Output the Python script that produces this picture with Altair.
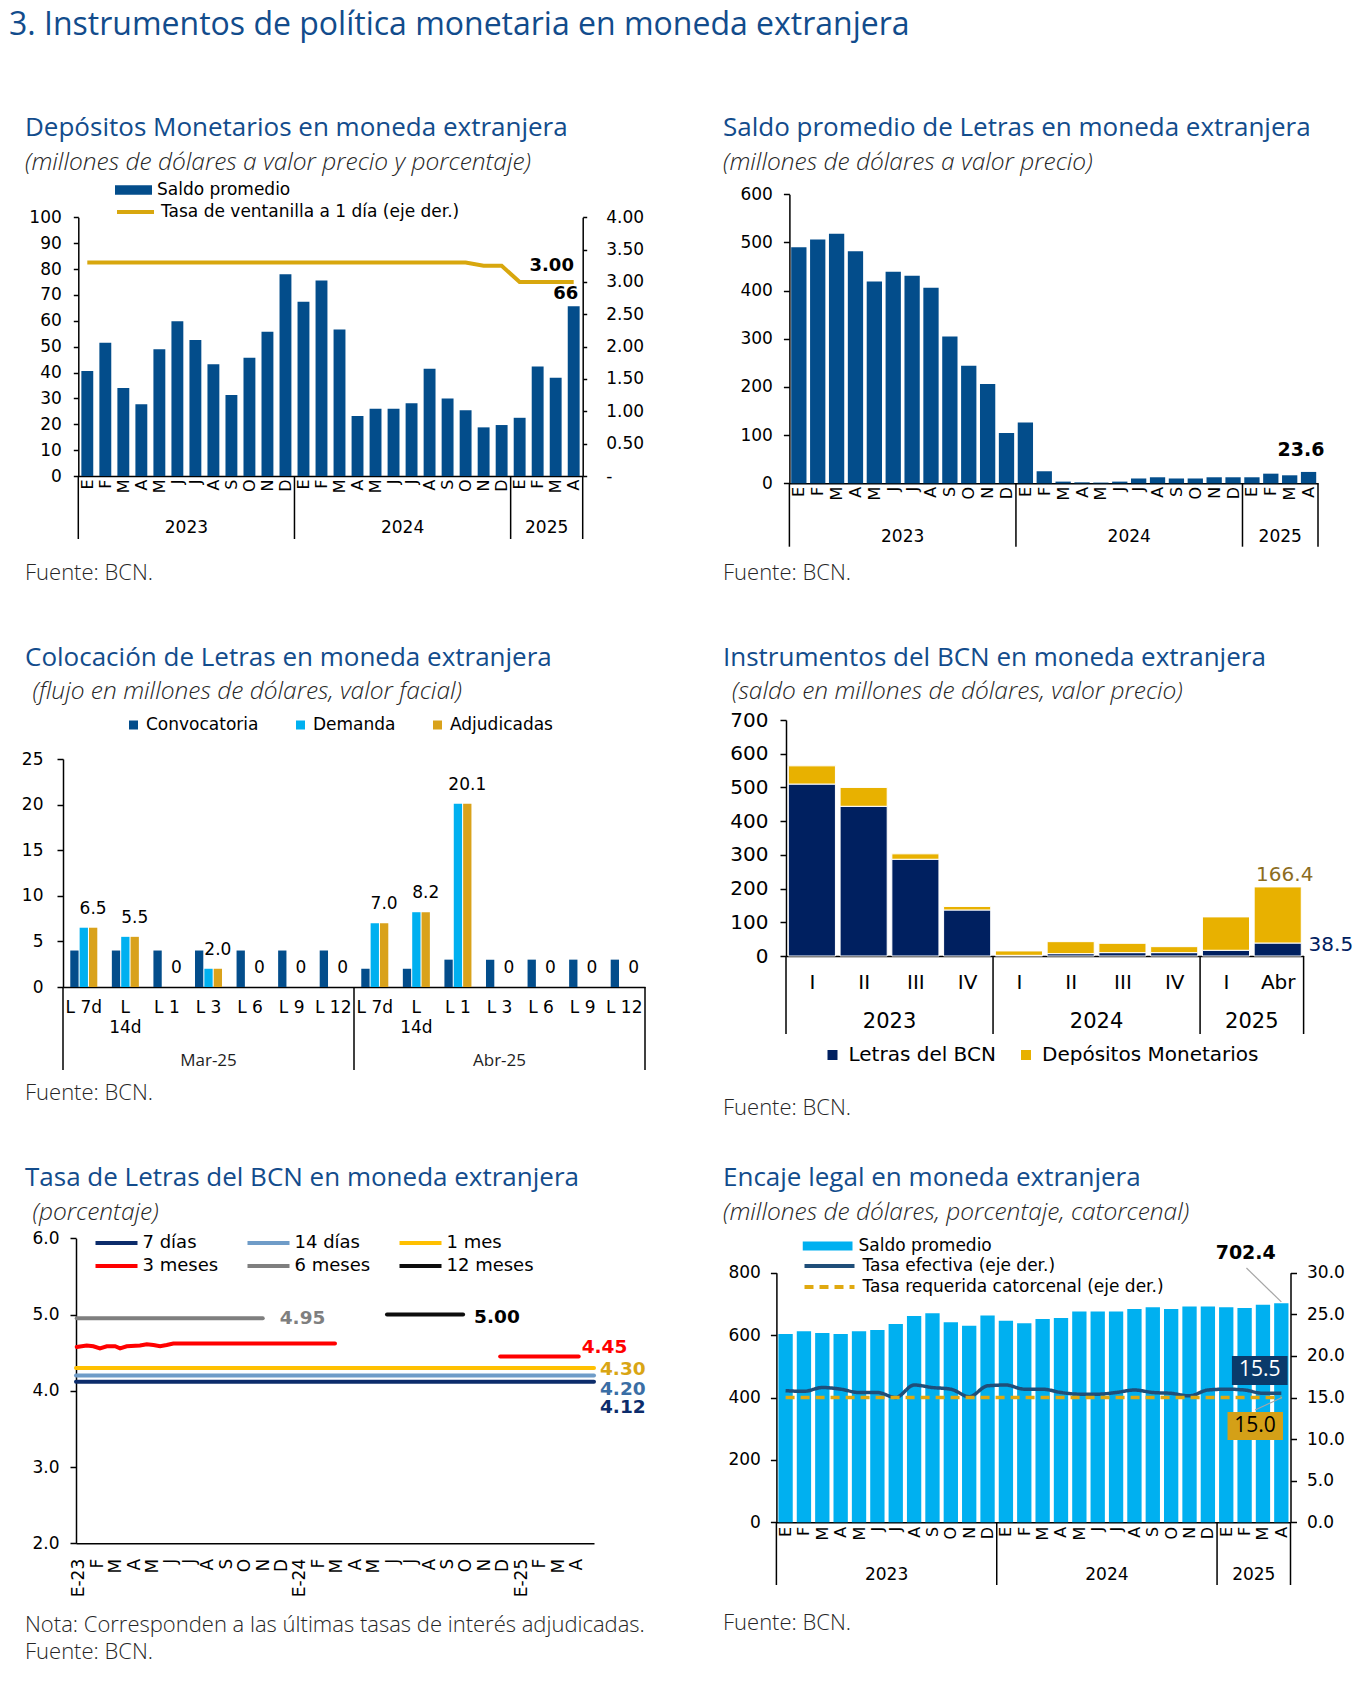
import json
import altair as alt
import pandas as pd

# ------------------------------------------------------------------ data
MESES = ["E", "F", "M", "A", "M", "J", "J", "A", "S", "O", "N", "D"]
ANIOS = ["2023", "2024", "2025"]
MESES_POR_ANIO = [12, 12, 4]

# 1) Depósitos Monetarios en moneda extranjera
dm_saldo = [40.6, 51.5, 34.0, 27.7, 49.0, 59.8, 52.6, 43.2, 31.3, 45.7, 55.8, 78.0,
            67.4, 75.6, 56.6, 23.2, 26.0, 26.0, 28.1, 41.5, 30.0, 25.4, 18.8, 19.7,
            22.5, 42.3, 38.0, 65.6]
dm_tasa = [3.30, 3.30, 3.30, 3.30, 3.30, 3.30, 3.30, 3.30, 3.30, 3.30, 3.30, 3.30,
           3.30, 3.30, 3.30, 3.30, 3.30, 3.30, 3.30, 3.30, 3.30, 3.30, 3.25, 3.25,
           3.00, 3.00, 3.00, 3.00]

# 2) Saldo promedio de Letras en moneda extranjera
le_saldo = [490, 506, 518, 482, 419, 439, 431, 406, 305, 244, 206, 104.5,
            126, 25, 3.5, 2, 1.5, 3.5, 10, 12.5, 10, 10, 12.5, 12.5,
            12.5, 20, 16.6, 23.6]

# 3) Colocación de Letras en moneda extranjera
co_meses = ["Mar-25", "Abr-25"]
co_letras = ["L 7d", "L\n14d", "L 1", "L 3", "L 6", "L 9", "L 12"]
co_series = ["Convocatoria", "Demanda", "Adjudicadas"]
co_conv = [4, 4, 4, 4, 4, 4, 4, 2, 2, 3, 3, 3, 3, 3]
co_dem = [6.5, 5.5, 0, 2.0, 0, 0, 0, 7.0, 8.2, 20.1, 0, 0, 0, 0]
co_adj = [6.5, 5.5, 0, 2.0, 0, 0, 0, 7.0, 8.2, 20.1, 0, 0, 0, 0]

# 4) Instrumentos del BCN en moneda extranjera
in_periodos = ["I", "II", "III", "IV", "I", "II", "III", "IV", "I", "Abr"]
in_por_anio = [4, 4, 2]
in_series = ["Letras del BCN", "Depósitos Monetarios"]
in_letras = [510, 444, 287, 136.5, 2, 7, 10, 10, 17, 38.5]
in_dep = [54, 56, 16, 10.5, 13, 35.5, 27.6, 17.7, 99, 166.4]

# 5) Tasa de Letras del BCN en moneda extranjera
ta_etiquetas = ["E-23", "F", "M", "A", "M", "J", "J", "A", "S", "O", "N", "D",
                "E-24", "F", "M", "A", "M", "J", "J", "A", "S", "O", "N", "D",
                "E-25", "F", "M", "A"]
ta_series = ["7 días", "14 días", "1 mes", "3 meses", "6 meses", "12 meses"]
ta_7d_x = [-0.15, 27.95]
ta_7d_y = [4.12, 4.12]
ta_14d_x = [-0.15, 27.95]
ta_14d_y = [4.20, 4.20]
ta_1m_x = [-0.15, 27.95]
ta_1m_y = [4.30, 4.30]
ta_3m_a_x = [-0.11, 0.43, 0.79, 1.15, 1.52, 1.97, 2.24, 2.60, 3.32, 3.69, 4.05, 4.41, 4.77, 5.13, 13.9]
ta_3m_a_y = [4.575, 4.593, 4.584, 4.557, 4.584, 4.584, 4.557, 4.584, 4.593, 4.610, 4.600, 4.584, 4.600, 4.619, 4.619]
ta_3m_b_x = [22.86, 27.12]
ta_3m_b_y = [4.45, 4.45]
ta_6m_x = [-0.11, 9.98]
ta_6m_y = [4.95, 4.95]
ta_12m_x = [16.72, 20.85]
ta_12m_y = [5.00, 5.00]

# 6) Encaje legal en moneda extranjera
en_saldo = [603.5, 612, 607, 603.5, 612, 616, 635.5, 661, 670, 641, 630, 663,
            646, 638, 651.5, 655, 676, 676, 676, 683.5, 689, 683.5, 692, 692,
            689, 687, 697.5, 702.4]
en_efectiva = [15.82, 15.74, 16.2, 16.0, 15.6, 15.6, 15.0, 16.5, 16.2, 16.0, 15.1, 16.4,
               16.5, 16.0, 16.0, 15.6, 15.4, 15.4, 15.6, 15.9, 15.6, 15.5, 15.2, 15.9,
               16.0, 15.9, 15.5, 15.5]
en_requerida = [15.0, 15.0, 15.0, 15.0, 15.0, 15.0, 15.0, 15.0, 15.0, 15.0, 15.0, 15.0,
                15.0, 15.0, 15.0, 15.0, 15.0, 15.0, 15.0, 15.0, 15.0, 15.0, 15.0, 15.0,
                15.0, 15.0, 15.0, 15.0]

# ------------------------------------------------------------------ style
HEAD = "Open Sans"
DJ = "DejaVu Sans"
C_TITLE = "#124C8C"
C_TXT = "#1E1E1E"
C_DM = "#034D8B"
C_GOLD = "#D8A70E"
C_NAVY = "#002060"
C_CYAN = "#00B0F0"
C_ADJ = "#D9A21B"
C_DEPQ = "#E8B100"
MES_EXPR = json.dumps(MESES) + "[floor(datum.value) % 12]"
T_SIZE = 26
S_SIZE = 24.5
F_SIZE = 22


def rect_sym(h):
    return "M-1,-{h}L1,-{h}L1,{h}L-1,{h}Z".format(h=h)


def sc(domain, rng):
    return alt.Scale(domain=domain, range=rng, nice=False, zero=False)


def tx(s, x, y, size, font=HEAD, color=C_TXT, weight="normal", style="normal",
       align="left", baseline="middle"):
    return alt.Chart(pd.DataFrame({"t": [s]})).mark_text(
        align=align, baseline=baseline, font=font, fontSize=size, color=color,
        fontWeight=weight, fontStyle=style,
    ).encode(text="t:N", x=alt.value(x), y=alt.value(y))


def title_(s, x, y):
    return tx(s, x, y, T_SIZE, color=C_TITLE)


def sub_(s, x, y):
    return tx(s, x, y, S_SIZE, style="italic", weight=300, color="#262626")


def note_(s, x, y):
    return tx(s, x, y, F_SIZE, weight=300, color="#262626")


def bottom_axis(offset, values=None, expr=None, angle=None, pad=3, size=17, labels=True):
    kw = dict(title=None, grid=False, ticks=False, offset=offset, domainColor="black",
              domainWidth=1.5, labelFont=DJ, labelFontSize=size, labelColor="black",
              labelPadding=pad, labelOverlap=False, labelFlush=False)
    if values is not None:
        kw["values"] = values
    if expr is not None:
        kw["labelExpr"] = expr
    if angle is not None:
        kw["labelAngle"] = angle
    if not labels:
        kw["labels"] = False
    return alt.Axis(**kw)


def side_axis(orient, offset, values, pad, size=17, fmt=None, expr=None, tick=6):
    kw = dict(orient=orient, title=None, grid=False, offset=offset, values=values,
              tickSize=tick, tickColor="black", tickWidth=1.5, domainColor="black",
              domainWidth=1.5, labelFont=DJ, labelFontSize=size, labelColor="black",
              labelPadding=pad, labelOverlap=False, labelFlush=False)
    if fmt is not None:
        kw["format"] = fmt
    if expr is not None:
        kw["labelExpr"] = expr
    return alt.Axis(**kw)


def lg(x, y, size=17, **kw):
    base = dict(orient="none", legendX=x, legendY=y, title=None, labelFont=DJ,
                labelFontSize=size, labelColor="black", padding=0, labelLimit=0)
    base.update(kw)
    return alt.Legend(**base)


def year_layers(xs, y_lab, B, y_sep, size=17, groups=MESES_POR_ANIO, labels=ANIOS,
                font=DJ, color="black"):
    starts = [sum(groups[:k]) for k in range(len(groups))]
    centers = [s + g / 2 for s, g in zip(starts, groups)]
    seps = starts + [sum(groups)]
    ylab = alt.Chart(pd.DataFrame({"x": centers, "t": labels})).mark_text(
        font=font, fontSize=size, color=color, baseline="middle"
    ).encode(x=alt.X("x:Q", scale=xs, axis=None), y=alt.value(y_lab), text="t:N")
    sep = alt.Chart(pd.DataFrame({"x": seps})).mark_rule(color="black", strokeWidth=1.5).encode(
        x=alt.X("x:Q", scale=xs, axis=None), y=alt.value(B), y2=alt.value(y_sep))
    return [ylab, sep]


# ------------------------------------------------------------------ panel 1
def panel1():
    W, H = 677, 612
    L, R, T, B = 70.3, 574.7, 209.3, 468.0
    n = len(dm_saldo)
    df = pd.DataFrame({"i": list(range(n)), "v": dm_saldo, "tasa": dm_tasa})
    df["x0"] = df["i"] + 0.17
    df["x1"] = df["i"] + 0.83
    df["xc"] = df["i"] + 0.5
    df["s1"] = "Saldo promedio"
    df["s2"] = "Tasa de ventanilla a 1 día (eje der.)"
    xs = sc([0, n], [L, R])
    yl = sc([0, 100], [B, T])
    yr = sc([0, 4], [B, T])
    bars = alt.Chart(df).mark_bar().encode(
        x=alt.X("x0:Q", scale=xs, axis=bottom_axis(B - H, [i + 0.5 for i in range(n)], MES_EXPR, 270, 3, 16)),
        x2="x1",
        y=alt.Y("v:Q", scale=yl, axis=side_axis("left", -L, list(range(0, 101, 10)), 12, tick=5)),
        y2=alt.datum(0),
        fill=alt.Fill("s1:N", scale=alt.Scale(domain=["Saldo promedio"], range=[C_DM]),
                      legend=lg(107, 172, symbolType=rect_sym(0.26), symbolSize=37 ** 2,
                                symbolStrokeWidth=0, clipHeight=20, labelOffset=5)),
    )
    line = alt.Chart(df).mark_line(strokeWidth=4).encode(
        x=alt.X("xc:Q", scale=xs, axis=None),
        y=alt.Y("tasa:Q", scale=yr, axis=side_axis(
            "right", R - W, [0, 0.5, 1.0, 1.5, 2.0, 2.5, 3.0, 3.5, 4.0], 19, tick=4,
            expr="datum.value == 0 ? '-' : format(datum.value, '.2f')")),
        stroke=alt.Stroke("s2:N", scale=alt.Scale(domain=["Tasa de ventanilla a 1 día (eje der.)"], range=[C_GOLD]),
                          legend=lg(107, 194, symbolType="stroke", symbolSize=37 ** 2,
                                    symbolStrokeWidth=4, clipHeight=20, labelOffset=5)),
    )
    last = df.tail(1)
    t66 = alt.Chart(last).mark_text(font=DJ, fontSize=18, fontWeight="bold", dx=-8, dy=-12,
                                    baseline="middle").encode(
        x=alt.X("xc:Q", scale=xs, axis=None), y=alt.Y("v:Q", scale=yl, axis=None),
        text=alt.Text("v:Q", format=".0f"))
    t300 = alt.Chart(last).mark_text(font=DJ, fontSize=18, fontWeight="bold", dx=-22, dy=-16,
                                     baseline="middle").encode(
        x=alt.X("xc:Q", scale=xs, axis=None), y=alt.Y("tasa:Q", scale=yr, axis=None),
        text=alt.Text("tasa:Q", format=".2f"))
    layers = [bars, line, t66, t300] + year_layers(xs, 520, B, 531) + [
        tx("3.  Instrumentos de política monetaria en moneda extranjera", 1, 17, 32, color=C_TITLE),
        title_("Depósitos Monetarios en moneda extranjera", 17, 120),
        sub_("(millones de dólares a valor precio y porcentaje)", 17, 155),
        note_("Fuente: BCN.", 17, 565),
    ]
    return alt.layer(*layers).resolve_scale(x="independent", y="independent").properties(width=W, height=H)


# ------------------------------------------------------------------ panel 2
def panel2():
    W, H = 677, 612
    L, R, T, B = 104.4, 633.0, 186.3, 475.3
    n = len(le_saldo)
    df = pd.DataFrame({"i": list(range(n)), "v": le_saldo})
    df["x0"] = df["i"] + 0.095
    df["x1"] = df["i"] + 0.905
    df["xc"] = df["i"] + 0.5
    xs = sc([0, n], [L, R])
    ys = sc([0, 600], [B, T])
    bars = alt.Chart(df).mark_bar(color=C_DM).encode(
        x=alt.X("x0:Q", scale=xs, axis=bottom_axis(B - H, [i + 0.5 for i in range(n)], MES_EXPR, 270, 3, 16)),
        x2="x1",
        y=alt.Y("v:Q", scale=ys, axis=side_axis("left", -L, list(range(0, 601, 100)), 11)),
        y2=alt.datum(0),
    )
    tlast = alt.Chart(df.tail(1)).mark_text(font=DJ, fontSize=19, fontWeight="bold", dx=-7.6, dy=-22,
                                            baseline="middle").encode(
        x=alt.X("xc:Q", scale=xs, axis=None), y=alt.Y("v:Q", scale=ys, axis=None),
        text=alt.Text("v:Q", format=".1f"))
    layers = [bars, tlast] + year_layers(xs, 528.7, B, 538.7) + [
        title_("Saldo promedio de Letras en moneda extranjera", 38, 120),
        sub_("(millones de dólares a valor precio)", 38, 155),
        note_("Fuente: BCN.", 38, 565),
    ]
    return alt.layer(*layers).resolve_scale(x="independent", y="independent").properties(width=W, height=H)


# ------------------------------------------------------------------ panel 3
def panel3():
    W, H = 677, 530
    L, R, T, B = 55.0, 637.0, 139.0, 367.0
    ng = len(co_conv)
    offs = {"Convocatoria": -0.225, "Demanda": 0.0, "Adjudicadas": 0.225}
    rows = []
    for g in range(ng):
        for s, vals in zip(co_series, [co_conv, co_dem, co_adj]):
            c = g + 0.5 + offs[s]
            rows.append({"g": g, "serie": s, "v": vals[g], "x0": c - 0.1, "x1": c + 0.1, "xc": c})
    df = pd.DataFrame(rows)
    xs = sc([0, ng], [L, R])
    ys = sc([0, 25], [B, T])
    bars = alt.Chart(df).mark_bar().encode(
        x=alt.X("x0:Q", scale=xs, axis=bottom_axis(B - H, labels=False)),
        x2="x1",
        y=alt.Y("v:Q", scale=ys, axis=side_axis("left", -L, [0, 5, 10, 15, 20, 25], 14)),
        y2=alt.datum(0),
        fill=alt.Fill("serie:N", scale=alt.Scale(domain=co_series, range=[C_DM, C_CYAN, C_ADJ]),
                      legend=lg(117, 96, symbolType="square", symbolSize=81, symbolStrokeWidth=0,
                                clipHeight=18, columns=3, direction="horizontal",
                                columnPadding=33, labelOffset=4)),
    )
    dadj = df[df["serie"] == "Adjudicadas"].copy()
    dadj["lab"] = [("0" if v == 0 else "{:.1f}".format(v)) for v in dadj["v"]]
    vlab = alt.Chart(dadj).mark_text(font=DJ, fontSize=17, color="black", dy=-19, baseline="middle").encode(
        x=alt.X("xc:Q", scale=xs, axis=None), y=alt.Y("v:Q", scale=ys, axis=None), text="lab:N")
    dcat = pd.DataFrame({"x": [g + 0.5 for g in range(ng)], "t": co_letras * len(co_meses)})
    cats = alt.Chart(dcat).mark_text(font=DJ, fontSize=17, color="black", baseline="top",
                                     lineBreak="\n", lineHeight=20).encode(
        x=alt.X("x:Q", scale=xs, axis=None), y=alt.value(380), text="t:N")
    layers = [bars, vlab, cats] + year_layers(xs, 441, B, 450, size=17,
                                              groups=[len(co_letras)] * len(co_meses), labels=co_meses,
                                              font=HEAD, color=C_TXT)
    layers += [
        title_("Colocación de Letras en moneda extranjera", 17, 38),
        sub_("(flujo en millones de dólares, valor facial)", 24.6, 72),
        note_("Fuente: BCN.", 17, 473),
    ]
    return alt.layer(*layers).resolve_scale(x="independent", y="independent").properties(width=W, height=H)


# ------------------------------------------------------------------ panel 4
def panel4():
    W, H = 677, 530
    L, R, T, B = 101.0, 618.6, 100.0, 336.0
    n = len(in_letras)
    rows = []
    for i in range(n):
        rows.append({"i": i, "serie": in_series[0], "y0": 0, "y1": in_letras[i]})
        rows.append({"i": i, "serie": in_series[1], "y0": in_letras[i], "y1": in_letras[i] + in_dep[i]})
    df = pd.DataFrame(rows)
    df["x0"] = df["i"] + 0.045
    df["x1"] = df["i"] + 0.955
    xs = sc([0, n], [L, R])
    ys = sc([0, 700], [B, T])
    bars = alt.Chart(df).mark_bar(stroke="white", strokeWidth=1).encode(
        x=alt.X("x0:Q", scale=xs, axis=bottom_axis(B - H, [i + 0.5 for i in range(n)],
                                                   json.dumps(in_periodos) + "[floor(datum.value)]",
                                                   None, 16, 20)),
        x2="x1",
        y=alt.Y("y0:Q", scale=ys, axis=side_axis("left", -L, list(range(0, 701, 100)), 12, size=20)),
        y2="y1",
        fill=alt.Fill("serie:N", scale=alt.Scale(domain=in_series, range=[C_NAVY, C_DEPQ]),
                      legend=lg(137.5, 424, size=20, symbolType="square", symbolSize=100, symbolStrokeWidth=0,
                                clipHeight=22, columns=2, direction="horizontal",
                                columnPadding=19.5, labelOffset=6)),
    )
    dl = pd.DataFrame({"xc": [n - 0.5], "xe": [n], "tot": [in_letras[-1] + in_dep[-1]],
                       "dep": [in_dep[-1]], "let": [in_letras[-1]]})
    tdep = alt.Chart(dl).mark_text(font=DJ, fontSize=20, color="#8C6D1F", dx=7, dy=-12, baseline="middle").encode(
        x=alt.X("xc:Q", scale=xs, axis=None), y=alt.Y("tot:Q", scale=ys, axis=None),
        text=alt.Text("dep:Q", format=".1f"))
    tlet = alt.Chart(dl).mark_text(font=DJ, fontSize=20, color=C_NAVY, dx=5, dy=2, align="left",
                                   baseline="middle").encode(
        x=alt.X("xe:Q", scale=xs, axis=None), y=alt.Y("let:Q", scale=ys, axis=None),
        text=alt.Text("let:Q", format=".1f"))
    layers = [bars, tdep, tlet] + year_layers(xs, 402, B, 414, size=21, groups=in_por_anio) + [
        title_("Instrumentos del BCN en moneda extranjera", 38, 38),
        sub_("(saldo en millones de dólares, valor precio)", 47, 72),
        note_("Fuente: BCN.", 38, 488),
    ]
    return alt.layer(*layers).resolve_scale(x="independent", y="independent").properties(width=W, height=H)


# ------------------------------------------------------------------ panel 5
def panel5():
    W, H = 677, 524
    L, R, T, B = 68.0, 586.0, 88.3, 393.3
    colors = ["#0C2C6B", "#6F9CC8", "#FFC000", "#FF0000", "#7F7F7F", "#0D0D0D"]
    segs = [("7 días", "a", ta_7d_x, ta_7d_y), ("14 días", "a", ta_14d_x, ta_14d_y),
            ("1 mes", "a", ta_1m_x, ta_1m_y), ("3 meses", "a", ta_3m_a_x, ta_3m_a_y),
            ("3 meses", "b", ta_3m_b_x, ta_3m_b_y), ("6 meses", "a", ta_6m_x, ta_6m_y),
            ("12 meses", "a", ta_12m_x, ta_12m_y)]
    rows = []
    for s, sg, xv, yv in segs:
        for a, b in zip(xv, yv):
            rows.append({"serie": s, "seg": s + sg, "x": a, "y": b})
    df = pd.DataFrame(rows)
    xs = sc([-0.15, 27.95], [L, R])
    ys = sc([2, 6], [B, T])
    lines = alt.Chart(df).mark_line(strokeWidth=4, strokeCap="round").encode(
        x=alt.X("x:Q", scale=xs, axis=bottom_axis(B - H, list(range(28)),
                                                  json.dumps(ta_etiquetas) + "[round(datum.value)]",
                                                  270, 15, 17)),
        y=alt.Y("y:Q", scale=ys, axis=side_axis("left", -L, [2, 3, 4, 5, 6], 11, fmt=".1f")),
        stroke=alt.Stroke("serie:N", scale=alt.Scale(domain=ta_series, range=colors),
                          legend=lg(85.5, 82.5, size=18, symbolType="stroke", symbolSize=42 ** 2,
                                    symbolStrokeWidth=4, clipHeight=21, columns=3,
                                    direction="horizontal", columnPadding=27, labelOffset=3)),
        detail="seg:N",
    )
    lab = pd.DataFrame({
        "x": [ta_3m_b_x[-1], ta_1m_x[-1], ta_14d_x[-1], ta_7d_x[-1], ta_6m_x[-1], ta_12m_x[-1]],
        "y": [ta_3m_b_y[-1], ta_1m_y[-1], ta_14d_y[-1], ta_7d_y[-1], ta_6m_y[-1], ta_12m_y[-1]],
        "dx": [3, 6, 6, 6, 17, 11],
        "dy": [-9, 1.5, 13.5, 25.5, 0, 2],
        "c": ["#FF0000", "#D9A514", "#3A6EA5", "#0C2C6B", "#7F7F7F", "#000000"],
    })
    lab["t"] = ["{:.2f}".format(v) for v in lab["y"]]
    tl = []
    for _, r in lab.iterrows():
        tl.append(alt.Chart(pd.DataFrame([r])).mark_text(
            font=DJ, fontSize=18.5, fontWeight="bold", color=r["c"], align="left", baseline="middle",
            dx=float(r["dx"]), dy=float(r["dy"])).encode(
            x=alt.X("x:Q", scale=xs, axis=None), y=alt.Y("y:Q", scale=ys, axis=None), text="t:N"))
    layers = [lines] + tl + [
        title_("Tasa de Letras del BCN en moneda extranjera", 17, 28),
        sub_("(porcentaje)", 24.6, 63),
        note_("Nota: Corresponden a las últimas tasas de interés adjudicadas.", 17, 475),
        note_("Fuente: BCN.", 17, 502),
    ]
    return alt.layer(*layers).resolve_scale(x="independent", y="independent").properties(width=W, height=H)


# ------------------------------------------------------------------ panel 6
def panel6():
    W, H = 677, 524
    L, R, T, B = 91.4, 605.5, 122.7, 372.3
    n = len(en_saldo)
    df = pd.DataFrame({"i": list(range(n)), "v": en_saldo})
    df["x0"] = df["i"] + 0.11
    df["x1"] = df["i"] + 0.89
    df["s"] = "Saldo promedio"
    s_ef = "Tasa efectiva (eje der.)"
    s_rq = "Tasa requerida catorcenal (eje der.)"
    dl = pd.DataFrame({
        "xc": [i + 0.5 for i in range(n)] * 2,
        "y": en_efectiva + en_requerida,
        "serie": [s_ef] * n + [s_rq] * n,
    })
    xs = sc([0, n], [L, R])
    yl = sc([0, 800], [B, T])
    yr = sc([0, 30], [B, T])
    bars = alt.Chart(df).mark_bar().encode(
        x=alt.X("x0:Q", scale=xs, axis=bottom_axis(B - H, [i + 0.5 for i in range(n)], MES_EXPR, 270, 4, 16)),
        x2="x1",
        y=alt.Y("v:Q", scale=yl, axis=side_axis("left", -L, [0, 200, 400, 600, 800], 10)),
        y2=alt.datum(0),
        fill=alt.Fill("s:N", scale=alt.Scale(domain=["Saldo promedio"], range=[C_CYAN]),
                      legend=lg(117.5, 86.5, symbolType=rect_sym(0.18), symbolSize=50 ** 2,
                                symbolStrokeWidth=0, clipHeight=19, labelOffset=6)),
    )
    lines = alt.Chart(dl).mark_line(strokeWidth=3.5, interpolate="monotone").encode(
        x=alt.X("xc:Q", scale=xs, axis=None),
        y=alt.Y("y:Q", scale=yr, axis=side_axis("right", R - W, [0, 5, 10, 15, 20, 25, 30], 10, fmt=".1f")),
        stroke=alt.Stroke("serie:N", scale=alt.Scale(domain=[s_ef, s_rq], range=["#1F4E79", "#E0A910"]),
                          legend=lg(117.5, 106.5, symbolType="stroke", symbolSize=50 ** 2,
                                    symbolStrokeWidth=4, clipHeight=19, labelOffset=6)),
        strokeDash=alt.StrokeDash("serie:N", scale=alt.Scale(domain=[s_ef, s_rq], range=[[1, 0], [9, 6]]),
                                  legend=lg(117.5, 106.5, symbolType="stroke", symbolSize=50 ** 2,
                                            symbolStrokeWidth=4, clipHeight=19, labelOffset=6)),
    )
    # annotations
    lead = pd.DataFrame({"x": [25.6], "y": [815.0], "x2": [n - 0.5], "y2": [en_saldo[-1] + 4]})
    lead_saldo = alt.Chart(lead).mark_rule(color="#A6A6A6", strokeWidth=1.2).encode(
        x=alt.X("x:Q", scale=xs, axis=None), y=alt.Y("y:Q", scale=yl, axis=None), x2="x2", y2="y2")
    t_saldo = alt.Chart(pd.DataFrame({"x": [n - 0.5], "y": [en_saldo[-1]]})).mark_text(
        font=DJ, fontSize=19, fontWeight="bold", color="black", dx=-35.6, dy=-50, baseline="middle").encode(
        x=alt.X("x:Q", scale=xs, axis=None), y=alt.Y("y:Q", scale=yl, axis=None),
        text=alt.Text("y:Q", format=".1f"))
    boxes = pd.DataFrame({
        "x0": [24.81, 24.57], "x1": [27.84, 27.59],
        "y0": [16.5, 9.9], "y1": [19.99, 13.26],
        "c": ["ef", "rq"],
    })
    box = alt.Chart(boxes).mark_rect().encode(
        x=alt.X("x0:Q", scale=xs, axis=None), x2="x1",
        y=alt.Y("y0:Q", scale=yr, axis=None), y2="y1",
        color=alt.Color("c:N", scale=alt.Scale(domain=["ef", "rq"], range=["#0A3A6B", "#D4A017"]), legend=None),
    )
    lead2 = pd.DataFrame({"x": [26.07], "y": [13.5], "x2": [n - 0.46], "y2": [en_requerida[-1]]})
    lead_rq = alt.Chart(lead2).mark_rule(color="#A6A6A6", strokeWidth=1.2).encode(
        x=alt.X("x:Q", scale=xs, axis=None), y=alt.Y("y:Q", scale=yr, axis=None), x2="x2", y2="y2")
    bl = pd.DataFrame({"x": [26.33, 26.07], "y": [18.25, 11.58],
                       "t": ["{:.1f}".format(en_efectiva[-1]), "{:.1f}".format(en_requerida[-1])],
                       "c": ["ef", "rq"]})
    btxt = alt.Chart(bl).mark_text(font=HEAD, fontSize=21, baseline="middle").encode(
        x=alt.X("x:Q", scale=xs, axis=None), y=alt.Y("y:Q", scale=yr, axis=None), text="t:N",
        color=alt.Color("c:N", scale=alt.Scale(domain=["ef", "rq"], range=["#FFFFFF", "#000000"]), legend=None))
    layers = [bars, lines, lead_saldo, t_saldo, lead_rq, box, btxt] + year_layers(xs, 425, B, 435) + [
        title_("Encaje legal en moneda extranjera", 38, 28),
        sub_("(millones de dólares, porcentaje, catorcenal)", 38, 63),
        note_("Fuente: BCN.", 38, 473),
    ]
    return alt.layer(*layers).resolve_scale(x="independent", y="independent",
                                            color="independent").properties(width=W, height=H)


chart = alt.concat(
    panel1(), panel2(), panel3(), panel4(), panel5(), panel6(),
    columns=2, spacing=0, bounds="flush", align="each",
).resolve_scale(
    x="independent", y="independent", fill="independent", stroke="independent",
    strokeDash="independent", color="independent",
).properties(
    padding=0, background="white",
).configure_view(stroke=None)

chart.save("out.html", embed_options={"renderer": "svg", "actions": False})
